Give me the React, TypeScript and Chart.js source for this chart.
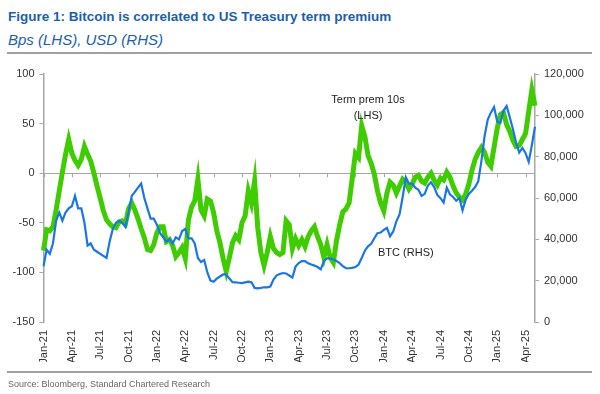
import React, { useEffect, useRef } from "react";
import { Chart, registerables } from "chart.js";

Chart.register(...registerables);

// ---- DATA ----
// Sample dates: 1st, 11th and 21st of each month, Jan-2021 .. Apr-2025, plus 1 May 2025
const MONTH_NAMES = ["Jan", "Feb", "Mar", "Apr", "May", "Jun", "Jul", "Aug", "Sep", "Oct", "Nov", "Dec"];
const SAMPLE_DAYS = [1, 11, 21];
const categories: string[] = [];
for (let m = 0; m < 52; m++) {
  const yr = 2021 + Math.floor(m / 12);
  for (const d of SAMPLE_DAYS) categories.push(`${d}-${MONTH_NAMES[m % 12]}-${yr}`);
}
categories.push("1-May-2025");

// Quarterly tick labels (every 9th sample)
const quarterLabels = [
  "Jan-21", "Apr-21", "Jul-21", "Oct-21",
  "Jan-22", "Apr-22", "Jul-22", "Oct-22",
  "Jan-23", "Apr-23", "Jul-23", "Oct-23",
  "Jan-24", "Apr-24", "Jul-24", "Oct-24",
  "Jan-25", "Apr-25",
];

// Term premium 10s, bps (LHS)
const termPremium = [
  -78, -57, -58, -54, -37, -18, 1, 19, 34, 20,
  13, 8, 14, 27, 19, 12, 0, -13, -25, -38,
  -47, -51, -54, -55, -49, -48, -51, -36, -30, -37,
  -46, -56, -65, -77, -78, -72, -60, -54, -54, -69,
  -67, -73, -84, -80, -75, -86, -47, -34, -28, -6,
  -37, -43, -26, -28, -40, -58, -70, -86, -99, -85,
  -70, -63, -67, -50, -43, -18, -30, -8, -55, -80,
  -93, -80, -64, -76, -80, -82, -80, -48, -52, -76,
  -66, -73, -67, -74, -64, -58, -54, -64, -72, -85,
  -72, -85, -90, -68, -52, -39, -36, -30, -5, 20,
  16, 48, 37, 18, 10, -1, -18, -30, -38, -20,
  -9, -12, -20, -13, -6, -9, -16, -11, -4, -2,
  -8, -10, -4, 0, -7, -12, -5, -7, 1, -4,
  -13, -20, -24, -27, -21, -11, 3, 14, 21, 26,
  21, 11, 7, 26, 45, 59, 61, 49, 42, 33,
  27, 28, 34, 40, 62, 84, 68,
];

// BTC price, thousand USD (RHS)
const btcThousandUsd = [
  27, 35, 33, 38, 49, 53, 49, 53, 55, 56,
  61, 55, 55, 48, 37, 38, 35, 34, 33, 32,
  31, 39, 45, 48, 49, 48, 46, 53, 61, 63,
  65, 67, 60, 55, 50, 50, 47, 43, 41, 39,
  40, 38, 41, 40, 44, 45, 40.5, 40.5, 38, 31,
  29, 30, 24, 20, 19.5, 21, 22, 23, 23, 21,
  19.3, 19.2, 19, 18.8, 19.2, 19.5, 19.2, 16.5, 16.3, 16.5,
  16.8, 16.8, 17.2, 20.5, 22.6, 23.2, 23.7, 23.5, 22.5, 21.5,
  26.8, 28.5, 29.5, 29.5, 28.4, 27.8, 27.3, 26.6, 25.5, 29.5,
  30.8, 30.8, 30.2, 29.5, 28.5, 27, 26, 26, 26.2, 26.6,
  27.8, 31, 34.5, 36.6, 37.8, 40.5, 43, 43.3, 44.6, 45.5,
  41.5, 43.8, 48.7, 52, 60.5, 70, 67, 67, 65, 64,
  61, 62, 66, 67.6, 65.3, 61.5, 59.9, 57.8, 65, 61.8,
  60.5, 58.7, 60, 54, 59.2, 62, 63.5, 65.3, 68.1, 78,
  90, 98, 101.3, 104, 97, 96.3, 102.3, 104.5, 99, 93.3,
  86.7, 82, 84.2, 81.7, 77.5, 85.5, 94.5,
];

// Annotation anchors (sample index, value, axis)
const annotations = [
  { text: "Term prem 10s", index: 103, value: 74, axis: "y" },
  { text: "(LHS)", index: 103, value: 58, axis: "y" },
  { text: "BTC (RHS)", index: 115, value: 33500, axis: "y1" },
];

const GREEN = "#3fcc00";
const BLUE = "#1a76e6";
const AXIS_GREY = "#a6a6a6";
const TEXT = "#333333";
const TITLE_BLUE = "#1b5fae";
const FONT = "'Liberation Sans', Arial, sans-serif";

export default function App() {
  const ref = useRef<HTMLCanvasElement | null>(null);

  useEffect(() => {
    if (!ref.current) return;

    const zeroTicks = {
      id: "zeroTicks",
      beforeDatasetsDraw(chart: any) {
        const ctx = chart.ctx;
        const xs = chart.scales.x;
        const y0 = chart.scales.y.getPixelForValue(0);
        ctx.save();
        ctx.strokeStyle = AXIS_GREY;
        ctx.lineWidth = 1;
        for (let i = 0; i < categories.length; i += 9) {
          const x = Math.round(xs.getPixelForValue(i)) + 0.5;
          ctx.beginPath();
          ctx.moveTo(x, y0);
          ctx.lineTo(x, y0 + 4);
          ctx.stroke();
        }
        ctx.restore();
      },
    };

    const labels = {
      id: "labels",
      afterDatasetsDraw(chart: any) {
        const ctx = chart.ctx;
        ctx.save();
        ctx.font = `11px ${FONT}`;
        ctx.fillStyle = "#222222";
        ctx.textAlign = "center";
        ctx.textBaseline = "middle";
        for (const a of annotations) {
          const x = chart.scales.x.getPixelForValue(a.index);
          const y = chart.scales[a.axis].getPixelForValue(a.value);
          ctx.fillText(a.text, x, y);
        }
        ctx.restore();
      },
    };

    const chart = new Chart(ref.current, {
      type: "line",
      data: {
        labels: categories,
        datasets: [
          {
            label: "BTC (RHS)",
            data: btcThousandUsd.map((v) => v * 1000),
            yAxisID: "y1",
            borderColor: BLUE,
            borderWidth: 2.2,
            pointRadius: 0,
            tension: 0,
          },
          {
            label: "Term prem 10s (LHS)",
            data: termPremium,
            yAxisID: "y",
            borderColor: GREEN,
            borderWidth: 5,
            pointRadius: 0,
            tension: 0,
          },
        ],
      },
      options: {
        animation: false,
        responsive: false,
        maintainAspectRatio: false,
        layout: { padding: { top: 74, bottom: 32, left: 0, right: 0 } },
        font: { family: FONT },
        plugins: {
          legend: { display: false },
          tooltip: { enabled: false },
        },
        scales: {
          x: {
            type: "category",
            offset: false,
            grid: { display: false, drawTicks: false },
            border: { display: false },
            ticks: {
              autoSkip: false,
              maxRotation: 90,
              minRotation: 90,
              padding: 8,
              color: TEXT,
              font: { family: FONT, size: 11 },
              callback: (_v: any, i: number) => (i % 9 === 0 ? quarterLabels[i / 9] ?? "" : ""),
            },
            afterFit: (s: any) => {
              s.height = 40;
            },
          },
          y: {
            position: "left",
            min: -150,
            max: 100,
            ticks: { stepSize: 50, color: TEXT, font: { family: FONT, size: 11 }, padding: 5 },
            grid: {
              color: (c: any) => (c.tick && c.tick.value === 0 ? AXIS_GREY : "rgba(0,0,0,0)"),
              tickColor: AXIS_GREY,
              tickLength: 4,
              lineWidth: 1,
            },
            border: { color: AXIS_GREY, width: 1.5 },
            afterFit: (s: any) => {
              s.width = 43.5;
            },
          },
          y1: {
            position: "right",
            min: 0,
            max: 120000,
            ticks: {
              stepSize: 20000,
              color: TEXT,
              font: { family: FONT, size: 11 },
              padding: 5,
              callback: (v: any) => Number(v).toLocaleString("en-US"),
            },
            grid: { drawOnChartArea: false, tickColor: AXIS_GREY, tickLength: 4 },
            border: { color: AXIS_GREY, width: 1.5 },
            afterFit: (s: any) => {
              s.width = 65;
            },
          },
        },
      } as any,
      plugins: [zeroTicks, labels],
    });

    return () => chart.destroy();
  }, []);

  return (
    <div
      style={{
        position: "absolute",
        left: 0,
        top: 0,
        width: 600,
        height: 394,
        background: "#ffffff",
        fontFamily: FONT,
        overflow: "hidden",
      }}
    >
      <div
        style={{
          position: "absolute",
          left: 8,
          top: 10,
          fontSize: 13.5,
          lineHeight: "14px",
          fontWeight: "bold",
          color: TITLE_BLUE,
          whiteSpace: "nowrap",
        }}
      >
        Figure 1: Bitcoin is correlated to US Treasury term premium
      </div>
      <div
        style={{
          position: "absolute",
          left: 8,
          top: 32,
          fontSize: 15,
          lineHeight: "15px",
          fontStyle: "italic",
          color: TITLE_BLUE,
          whiteSpace: "nowrap",
        }}
      >
        Bps (LHS), USD (RHS)
      </div>
      <div style={{ position: "absolute", left: 7, top: 52, width: 585, height: 2, background: "#a0a0a0" }} />
      <canvas ref={ref} width={600} height={394} style={{ position: "absolute", left: 0, top: 0, width: 600, height: 394 }} />
      <div style={{ position: "absolute", left: 7, top: 371, width: 585, height: 2, background: "#a0a0a0" }} />
      <div
        style={{
          position: "absolute",
          left: 8,
          top: 379,
          fontSize: 9,
          lineHeight: "10px",
          color: "#666666",
          whiteSpace: "nowrap",
        }}
      >
        Source: Bloomberg, Standard Chartered Research
      </div>
    </div>
  );
}
